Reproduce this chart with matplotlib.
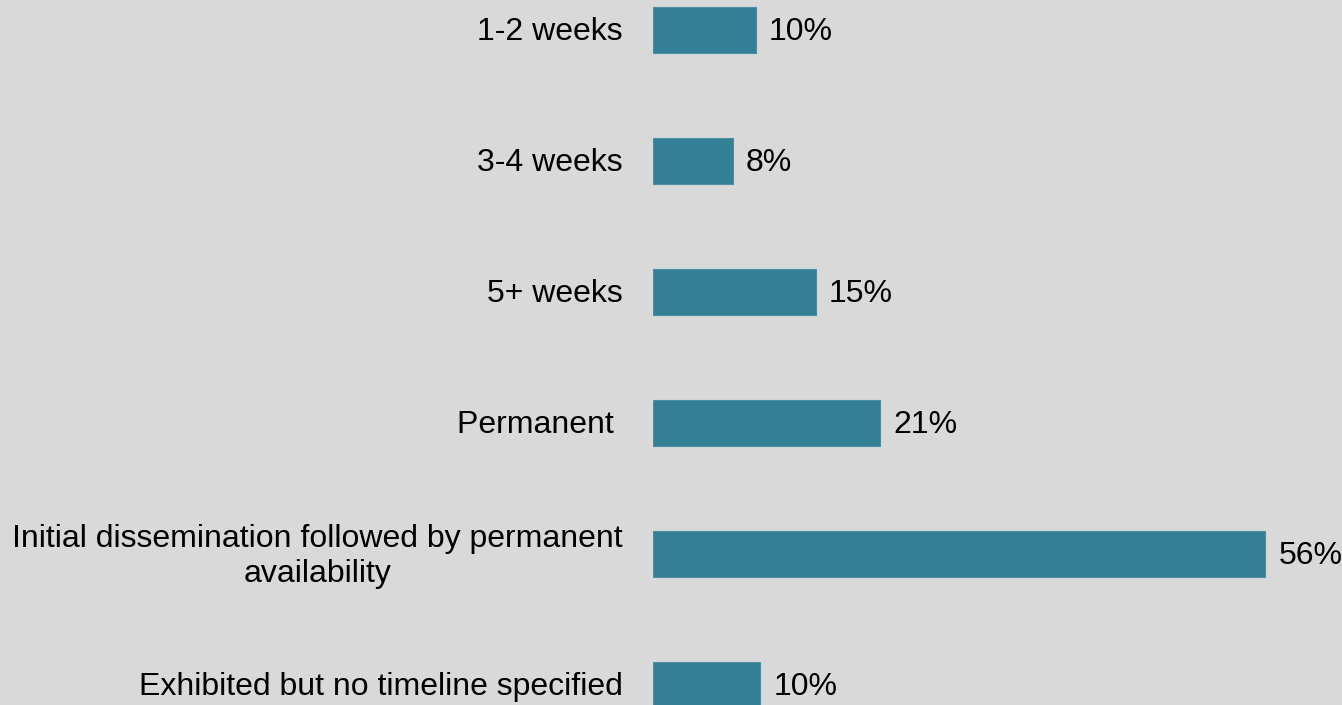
import matplotlib.pyplot as plt

categories = [
    '1-2 weeks',
    '3-4 weeks',
    '5+ weeks',
    'Permanent ',
    'Initial dissemination followed by permanent\navailability',
    'Exhibited but no timeline specified',
]
values = [9.4, 7.3, 14.9, 20.8, 56.0, 9.8]
value_labels = ['10%', '8%', '15%', '21%', '56%', '10%']

bg = '#d9d9d9'
bar_color = '#327f96'

plt.rcParams['font.family'] = ['Liberation Sans', 'DejaVu Sans']

fig = plt.figure(figsize=(13.42, 7.05), dpi=100, facecolor=bg)
# axes from x=653px to the right edge, full height
ax = fig.add_axes([653 / 1342, 0, 1 - 653 / 1342, 1])
ax.set_facecolor(bg)

pos = list(range(len(categories)))
ax.barh(pos, values, height=0.35, color=bar_color, edgecolor='#4a8ea3', linewidth=0.8)

ax.set_xlim(0, (1342 - 653) / 10.93)
ax.set_ylim((705 - 30) / 131, -30 / 131)

for p, v, lab in zip(pos, values, value_labels):
    ax.annotate(lab, (v, p), xytext=(9.5, -1.5), textcoords='offset points',
                ha='left', va='center', fontsize=23, color='black',
                annotation_clip=False)

for p, cat in zip(pos, categories):
    ax.annotate(cat, (0, p), xytext=(-22, -1.5), textcoords='offset points',
                ha='right', va='center', multialignment='center',
                fontsize=23, color='black', linespacing=1.22,
                annotation_clip=False)

ax.set_xticks([])
ax.set_yticks([])
for s in ax.spines.values():
    s.set_visible(False)

fig.savefig('out.png', dpi=100, facecolor=bg)
